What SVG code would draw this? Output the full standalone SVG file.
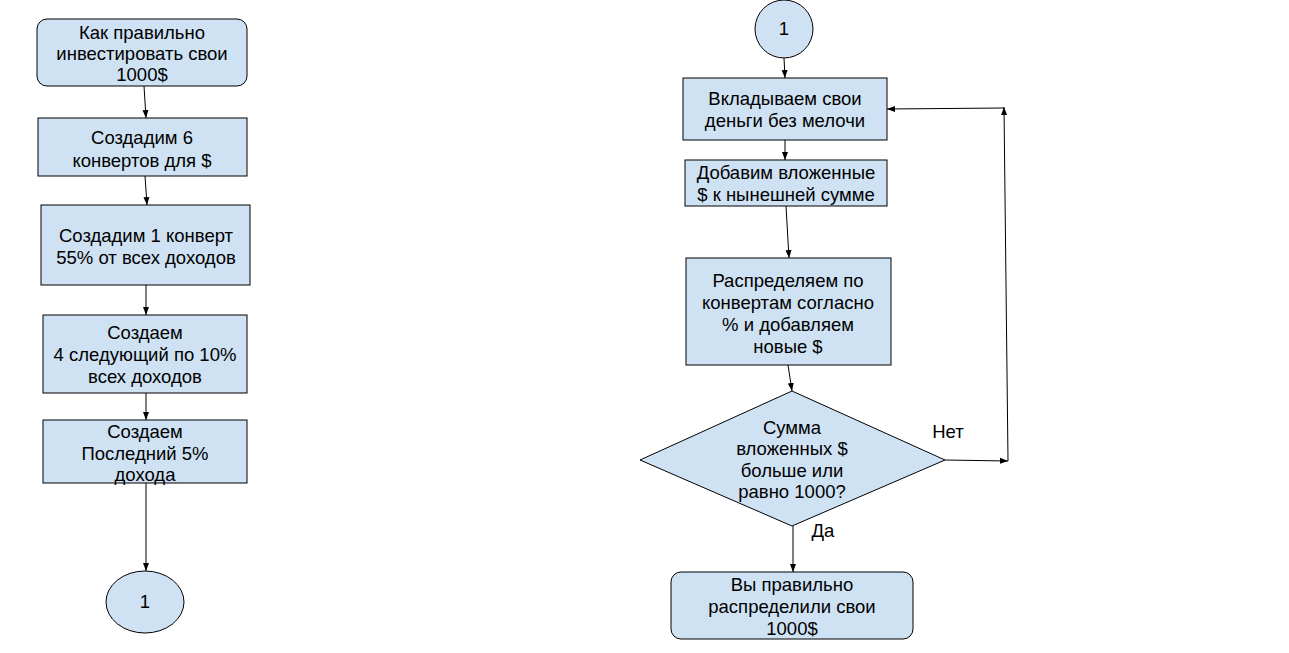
<svg xmlns="http://www.w3.org/2000/svg" width="1289" height="653" viewBox="0 0 1289 653">
<defs>
<marker id="ah" viewBox="0 0 8 8" refX="8" refY="4" markerWidth="8" markerHeight="8" markerUnits="userSpaceOnUse" orient="auto">
<path d="M0,1 L8,4 L0,7 Z" fill="#000"/>
</marker>
<style>
.n{fill:#cfe2f3;stroke:#000;stroke-width:1}
.t{font-family:"Liberation Sans",Arial,sans-serif;font-size:18.5px;fill:#000;text-anchor:middle}
.c{fill:none;stroke:#000;stroke-width:1;marker-end:url(#ah)}
</style>
</defs>
<rect width="1289" height="653" fill="#fff"/>
<g id="n1"><rect class="n" x="37" y="19" width="210" height="67" rx="10"/>
<text class="t" x="142" y="39">Как правильно</text><text class="t" x="142" y="60">инвестировать свои</text><text class="t" x="142" y="81">1000$</text></g>
<g id="n2"><rect class="n" x="38" y="118" width="209" height="58"/>
<text class="t" x="142" y="144">Создадим 6</text><text class="t" x="142" y="167">конвертов для $</text></g>
<g id="n3"><rect class="n" x="41" y="205" width="209" height="80"/>
<text class="t" x="146" y="242">Создадим 1 конверт</text><text class="t" x="146" y="264">55% от всех доходов</text></g>
<g id="n4"><rect class="n" x="43" y="315" width="204" height="78"/>
<text class="t" x="145" y="339">Создаем</text><text class="t" x="145" y="361">4 следующий по 10%</text><text class="t" x="145" y="383">всех доходов</text></g>
<g id="n5"><rect class="n" x="43" y="420" width="204" height="63"/>
<text class="t" x="145" y="438">Создаем</text><text class="t" x="145" y="460">Последний 5%</text><text class="t" x="145" y="481">дохода</text></g>
<g id="n6"><ellipse class="n" cx="145" cy="602" rx="39" ry="31"/>
<text class="t" x="145" y="608">1</text></g>
<g id="n7"><circle class="n" cx="784" cy="29" r="29"/>
<text class="t" x="784" y="35">1</text></g>
<g id="n8"><rect class="n" x="683" y="78" width="204" height="62"/>
<text class="t" x="785" y="105">Вкладываем свои</text><text class="t" x="785" y="127">деньги без мелочи</text></g>
<g id="n9"><rect class="n" x="685" y="160" width="202" height="46"/>
<text class="t" x="786" y="179">Добавим вложенные</text><text class="t" x="786" y="201">$ к нынешней сумме</text></g>
<g id="n10"><rect class="n" x="686" y="258" width="205" height="107"/>
<text class="t" x="788" y="287">Распределяем по</text><text class="t" x="788" y="309">конвертам согласно</text><text class="t" x="788" y="331">% и добавляем</text><text class="t" x="788" y="353">новые $</text></g>
<g id="n11"><polygon class="n" points="792,391 945,460 792,526 640,460"/>
<text class="t" x="792" y="434">Сумма</text><text class="t" x="792" y="455">вложенных $</text><text class="t" x="792" y="477">больше или</text><text class="t" x="792" y="498">равно 1000?</text></g>
<g id="n12"><rect class="n" x="671" y="572" width="242" height="67" rx="10"/>
<text class="t" x="792" y="591">Вы правильно</text><text class="t" x="792" y="613">распределили свои</text><text class="t" x="792" y="635">1000$</text></g>
<g id="connectors">
<path class="c" d="M144,86 L146,118"/>
<path class="c" d="M145,176 L147,205"/>
<path class="c" d="M146,285 L146,315"/>
<path class="c" d="M146,393 L146,420"/>
<path class="c" d="M146,483 L146,571"/>
<path class="c" d="M784,58 L785,78"/>
<path class="c" d="M785,140 L785,160"/>
<path class="c" d="M786,206 L789,258"/>
<path class="c" d="M788,365 L792,391"/>
<path class="c" d="M945,460 L1008,461"/>
<path class="c" d="M1008,461 L1004,107"/>
<path class="c" d="M1004,108 L887,109"/>
<path class="c" d="M793,526 L793,572"/>
<text class="t" x="948" y="438">Нет</text>
<text class="t" x="823" y="537">Да</text>
</g>
</svg>
